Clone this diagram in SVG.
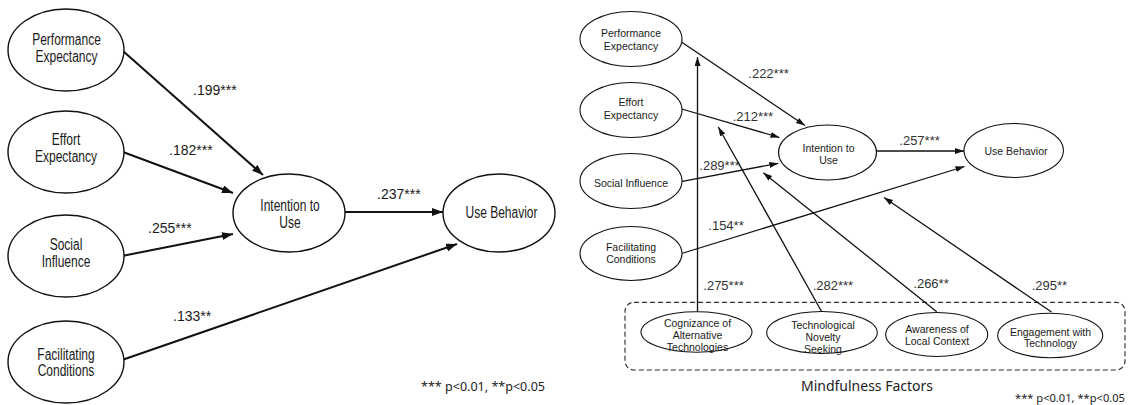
<svg xmlns="http://www.w3.org/2000/svg" width="1133" height="405" viewBox="0 0 1133 405">
<style>
  .bg{fill:#ffffff}
  .ln{fill:#fff;stroke:#111;stroke-width:1.4}
  .rn{fill:#fff;stroke:#111;stroke-width:1.1}
  .lc{fill:none;stroke:#111;stroke-width:2;marker-end:url(#la)}
  .rc{fill:none;stroke:#111;stroke-width:1.3;marker-end:url(#ra)}
  .lt{font-family:"Liberation Sans",Arial,sans-serif;font-size:16px;fill:#1a1a1a;text-anchor:middle}
  .rt{font-family:"Liberation Sans",Arial,sans-serif;font-size:10.5px;fill:#1a1a1a;text-anchor:middle}
  .ll{font-family:"Liberation Sans",Arial,sans-serif;font-size:14px;fill:#1a1a1a}
  .rl{font-family:"Liberation Sans",Arial,sans-serif;font-size:13px;fill:#333}
  .lg{font-family:"Noto Sans","DejaVu Sans",sans-serif;fill:#222}
  .box{fill:none;stroke:#333;stroke-width:1.2;stroke-dasharray:5 3}
</style>
<defs>
  <marker id="la" markerUnits="userSpaceOnUse" markerWidth="12" markerHeight="9" refX="11" refY="4" orient="auto">
    <path d="M0,0 L11,4 L0,8 z" fill="#111"/>
  </marker>
  <marker id="ra" markerUnits="userSpaceOnUse" markerWidth="10" markerHeight="7" refX="9" refY="3" orient="auto">
    <path d="M0,0 L9,3 L0,6 z" fill="#111"/>
  </marker>
</defs>
<rect class="bg" x="0" y="0" width="1133" height="405"/>

<!-- LEFT MODEL -->
<g id="left-connectors">
  <path class="lc" d="M123,51 L263,175"/>
  <path class="lc" d="M123,152 L233,193"/>
  <path class="lc" d="M122,256 L233,234"/>
  <path class="lc" d="M122,360 L457,244"/>
  <path class="lc" d="M345,212 L443,212"/>
  <text class="ll" x="193" y="95">.199***</text>
  <text class="ll" x="169" y="155">.182***</text>
  <text class="ll" x="148" y="233">.255***</text>
  <text class="ll" x="173" y="321">.133**</text>
  <text class="ll" x="377" y="199">.237***</text>
</g>
<g id="l-performance-expectancy">
  <ellipse class="ln" cx="66" cy="50" rx="58" ry="41"/>
  <text class="lt" transform="translate(66.5,0) scale(0.75,1)"><tspan x="0" y="45">Performance</tspan><tspan x="0" y="62">Expectancy</tspan></text>
</g>
<g id="l-effort-expectancy">
  <ellipse class="ln" cx="66" cy="152" rx="58" ry="41"/>
  <text class="lt" transform="translate(66,0) scale(0.75,1)"><tspan x="0" y="145">Effort</tspan><tspan x="0" y="162">Expectancy</tspan></text>
</g>
<g id="l-social-influence">
  <ellipse class="ln" cx="66" cy="256" rx="58" ry="41"/>
  <text class="lt" transform="translate(66,0) scale(0.75,1)"><tspan x="0" y="250">Social</tspan><tspan x="0" y="267">Influence</tspan></text>
</g>
<g id="l-facilitating-conditions">
  <ellipse class="ln" cx="66" cy="362" rx="58" ry="41"/>
  <text class="lt" transform="translate(66,0) scale(0.75,1)"><tspan x="0" y="360">Facilitating</tspan><tspan x="0" y="376">Conditions</tspan></text>
</g>
<g id="l-intention-to-use">
  <ellipse class="ln" cx="289" cy="213" rx="56" ry="39"/>
  <text class="lt" transform="translate(290,0) scale(0.75,1)"><tspan x="0" y="211">Intention to</tspan><tspan x="0" y="228">Use</tspan></text>
</g>
<g id="l-use-behavior">
  <ellipse class="ln" cx="499" cy="213" rx="56" ry="39"/>
  <text class="lt" transform="translate(501.5,0) scale(0.75,1)"><tspan x="0" y="218">Use Behavior</tspan></text>
</g>
<text class="lg" x="421" y="391" font-size="13" textLength="124" lengthAdjust="spacingAndGlyphs">*** p&lt;0.01, **p&lt;0.05</text>

<!-- RIGHT MODEL -->
<rect class="box" x="625" y="302.3" width="500" height="67.7" rx="9" ry="9"/>
<g id="right-connectors">
  <path class="rc" d="M680,41 L805,125.5"/>
  <path class="rc" d="M680,108.5 L779.5,137.5"/>
  <path class="rc" d="M681,181.7 L778.3,163.3"/>
  <path class="rc" d="M877,151 L964,151"/>
  <path class="rc" d="M680,254 L964.5,166.5"/>
  <path class="rc" d="M697.5,311.7 L697.5,57"/>
  <path class="rc" d="M821.7,311.7 L718.3,127"/>
  <path class="rc" d="M936.7,311.7 L763.3,172.7"/>
  <path class="rc" d="M1051.5,312 L884,197.5"/>
  <text class="rl" x="748.3" y="78">.222***</text>
  <text class="rl" x="732.7" y="120.5">.212***</text>
  <text class="rl" x="699.3" y="169.5">.289***</text>
  <text class="rl" x="899.3" y="144.5">.257***</text>
  <text class="rl" x="708.3" y="229.5">.154**</text>
  <text class="rl" x="703.3" y="289.5">.275***</text>
  <text class="rl" x="812.7" y="289.5">.282***</text>
  <text class="rl" x="913.3" y="288">.266**</text>
  <text class="rl" x="1031.7" y="289.5">.295**</text>
</g>
<g id="r-performance-expectancy">
  <ellipse class="rn" cx="631" cy="39" rx="51" ry="27.5"/>
  <text class="rt"><tspan x="631" y="37">Performance</tspan><tspan x="631" y="49.5">Expectancy</tspan></text>
</g>
<g id="r-effort-expectancy">
  <ellipse class="rn" cx="631" cy="110" rx="51" ry="27.5"/>
  <text class="rt"><tspan x="631" y="106">Effort</tspan><tspan x="631" y="119">Expectancy</tspan></text>
</g>
<g id="r-social-influence">
  <ellipse class="rn" cx="631" cy="181" rx="51" ry="27.5"/>
  <text class="rt" x="631" y="186.5">Social Influence</text>
</g>
<g id="r-facilitating-conditions">
  <ellipse class="rn" cx="631" cy="253.5" rx="51" ry="27"/>
  <text class="rt"><tspan x="631" y="250.5">Facilitating</tspan><tspan x="631" y="263">Conditions</tspan></text>
</g>
<g id="r-intention-to-use">
  <ellipse class="rn" cx="827.5" cy="152.5" rx="49" ry="27.5"/>
  <text class="rt"><tspan x="828.5" y="152">Intention to</tspan><tspan x="828.5" y="164">Use</tspan></text>
</g>
<g id="r-use-behavior">
  <ellipse class="rn" cx="1013.7" cy="150.5" rx="49.7" ry="27"/>
  <text class="rt" x="1016" y="155">Use Behavior</text>
</g>
<g id="r-cognizance">
  <ellipse class="rn" cx="696.5" cy="332" rx="55.5" ry="20.3"/>
  <text class="rt"><tspan x="697.5" y="326.5">Cognizance of</tspan><tspan x="697.5" y="339">Alternative</tspan><tspan x="697.5" y="351">Technologies</tspan></text>
</g>
<g id="r-novelty">
  <ellipse class="rn" cx="822" cy="332.5" rx="55.3" ry="21"/>
  <text class="rt"><tspan x="823" y="329">Technological</tspan><tspan x="823" y="340.5">Novelty</tspan><tspan x="823" y="353">Seeking</tspan></text>
</g>
<g id="r-awareness">
  <ellipse class="rn" cx="936.7" cy="334.5" rx="51" ry="22"/>
  <text class="rt"><tspan x="937" y="333">Awareness of</tspan><tspan x="937" y="345">Local Context</tspan></text>
</g>
<g id="r-engagement">
  <ellipse class="rn" cx="1050.2" cy="335.5" rx="52.5" ry="22.3"/>
  <text class="rt"><tspan x="1050.5" y="335.5">Engagement with</tspan><tspan x="1050.5" y="347">Technology</tspan></text>
</g>
<text class="lg" x="867" y="391" font-size="14" text-anchor="middle">Mindfulness Factors</text>
<text class="lg" x="1015" y="402" font-size="11.5" textLength="110" lengthAdjust="spacingAndGlyphs">*** p&lt;0.01, **p&lt;0.05</text>
</svg>
